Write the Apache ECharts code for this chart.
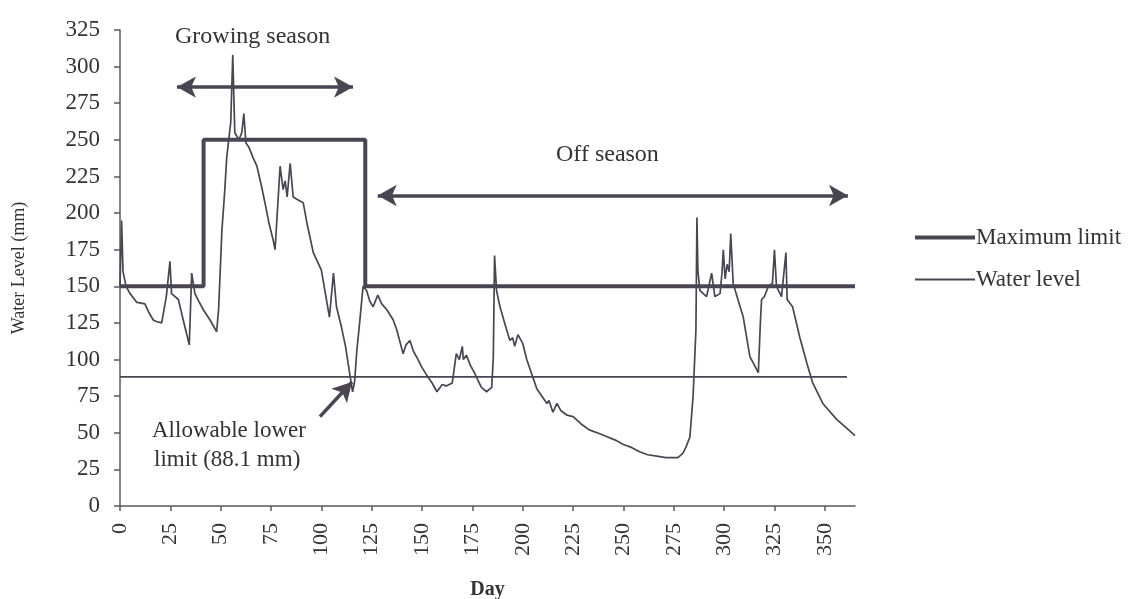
<!DOCTYPE html>
<html>
<head>
<meta charset="utf-8">
<script src="https://cdn.jsdelivr.net/npm/echarts@6/dist/echarts.min.js"></script>
<style>
html,body{margin:0;padding:0;background:#fff;}
#chart{width:1144px;height:599px;}
</style>
</head>
<body>
<div id="chart"></div>
<script>
// ---- data ----
const yTicks = [0,25,50,75,100,125,150,175,200,225,250,275,300,325];
const xTicks = [0,25,50,75,100,125,150,175,200,225,250,275,300,325,350];
const maxLimit = [[0,150],[41.5,150],[41.5,250],[121.8,250],[121.8,150],[365,150]];
const lowerLimitValue = 88.1;
const lowerLimitSpan = [0, 361];
const waterLevel = [
[0,150],[0.8,195],[1.5,160],[3,150],[5,145],[8.4,139],[12.4,138],[14,133],[16.5,127],[18,126],[20.7,125],[23,143],[24.8,167],[25.6,145],[29,141],[31.4,127],[33,118],[34.4,110],[35.6,159],[37.2,145],[39,140],[41.4,134],[44.7,127],[48,119],[49,135],[50.6,188],[52,215],[53,238],[54,250],[55,262],[56,308],[57,255],[59,250],[60.5,255],[61.5,268],[62.5,248],[64,245],[66,238],[68,232],[70,220],[72,207],[74,193],[76,182],[77,175],[78.5,209],[79.5,232],[81,216],[82,222],[83,211],[84.5,234],[86,211],[88.5,209],[91,207],[93,192],[96,173],[98,167],[100,161],[102,145],[104,129],[106,159],[107.5,136],[110,122],[112,109],[114,91],[115.5,78],[116.5,85],[117.6,106],[119,125],[120.7,150],[122.5,147],[124,140],[125.7,136],[128,144],[130,138],[132.5,134],[135.7,127],[137.5,120],[140.6,104],[142,110],[144,113],[145.6,106],[148,100],[149.8,95],[152,90],[155,84],[157.4,78],[160,83],[162,82],[165,84],[167,104],[168.5,100],[170,109],[170.5,100],[172,103],[174,96],[176,91],[178,85],[179.5,81],[182,78],[184.6,81],[185.4,102],[186,171],[187,147],[188.7,136],[191,125],[193.6,113],[195,115],[196,109],[197.6,117],[200,111],[202,100],[205,88],[207,80],[209.5,75],[212,70],[213,72],[215,64],[217,70],[219,65],[222,62],[225,61],[229,56],[233,52],[237,50],[241.6,47.5],[246,45],[250,42],[254,40],[258,37],[262,35],[266.6,34],[271,33],[274.6,33],[277,33],[279.5,36],[281,40],[283,47],[284.6,75],[286,120],[286.5,197],[287,160],[288,147],[291.3,143],[293.8,159],[295.4,143],[298,145],[299,160],[299.6,175],[300.5,155],[301.5,165],[302.5,160],[303.3,186],[304.5,152],[306,145],[309.5,129],[312.8,102],[317,91],[318,125],[318.6,141],[320,143],[322,150],[324,152],[325,175],[326,150],[328.5,143],[330.7,173],[331.3,141],[334,136],[337.6,115],[341,98],[344,84],[349,70],[356,59],[361,53],[365,48]
];
const growingArrow = [[28.3,286],[115.7,286]];
const offArrow = [[128,212],[361.5,212]];
const lowerArrow = [[99.3,61],[115.2,84.7]];
const seriesNames = ['Maximum limit','Water level'];
const annotationTexts = ['Growing season','Off season','Allowable lower','limit (88.1 mm)'];

// ---- chart ----
const INK = '#4a4552';
const TXT = '#333333';
const FONT = '"Liberation Serif", "DejaVu Serif", serif';
const chart = echarts.init(document.getElementById('chart'), null, {renderer:'canvas'});

const arrowLine = (pts, sym) => ({
  silent: true,
  symbol: sym,
  symbolSize: [16, 19],
  label: {show:false},
  lineStyle: {color: INK, width: 3.5, type: 'solid'},
  emphasis: {disabled: true},
  animation: false,
  data: [[{coord: pts[0]}, {coord: pts[1]}]]
});

const legendBase = {
  orient: 'vertical',
  left: 910,
  itemWidth: 60,
  icon: 'rect',
  itemStyle: {color: INK},
  textStyle: {fontFamily: FONT, fontSize: 23, color: TXT, padding: [0,0,0,-4]},
  selectedMode: false
};

chart.setOption({
  animation: false,
  backgroundColor: '#fff',
  textStyle: {fontFamily: FONT},
  grid: {left: 120, right: 289, top: 30, bottom: 93, containLabel: false, outerBoundsMode: 'none'},
  legend: [
    Object.assign({}, legendBase, {data: [seriesNames[0]], top: 221, itemHeight: 4}),
    Object.assign({}, legendBase, {data: [seriesNames[1]], top: 263, itemHeight: 2})
  ],
  xAxis: {
    type: 'value',
    min: 0, max: 365, interval: 25,
    name: 'Day',
    nameLocation: 'middle',
    nameGap: 74,
    nameTextStyle: {fontFamily: FONT, fontSize: 20, color: TXT, fontWeight: 'bold'},
    axisLine: {show: true, lineStyle: {color: '#5a5a5a', width: 1.5}},
    axisTick: {show: true, length: 5, lineStyle: {color: '#5a5a5a', width: 1.5}},
    axisLabel: {
      rotate: 90, margin: 17, fontFamily: FONT, fontSize: 22, color: TXT,
      showMaxLabel: false,
      formatter: v => xTicks.includes(v) ? String(v) : ''
    },
    splitLine: {show: false}
  },
  yAxis: {
    type: 'value',
    min: 0, max: 325, interval: 25,
    name: 'Water Level (mm)',
    nameLocation: 'middle',
    nameGap: 92,
    nameTextStyle: {fontFamily: FONT, fontSize: 18, color: TXT},
    axisLine: {show: true, lineStyle: {color: '#5a5a5a', width: 1.5}},
    axisTick: {show: true, length: 6, lineStyle: {color: '#5a5a5a', width: 1.5}},
    axisLabel: {margin: 20, fontFamily: FONT, fontSize: 23, color: TXT,
      formatter: v => yTicks.includes(v) ? String(v) : ''},
    splitLine: {show: false}
  },
  series: [
    {
      name: seriesNames[0], type: 'line', data: maxLimit,
      symbol: 'none', z: 3,
      lineStyle: {color: INK, width: 4},
      itemStyle: {color: INK}
    },
    {
      name: seriesNames[1], type: 'line', data: waterLevel,
      symbol: 'none', z: 4,
      lineStyle: {color: INK, width: 1.7},
      itemStyle: {color: INK}
    },
    {
      name: 'Allowable lower limit', type: 'line',
      data: [[lowerLimitSpan[0], lowerLimitValue],[lowerLimitSpan[1], lowerLimitValue]],
      symbol: 'none', z: 2,
      lineStyle: {color: INK, width: 1.8},
      markLine: arrowLine(lowerArrow, ['none','arrow'])
    },
    {
      name: 'arrows1', type: 'line', data: [], symbol: 'none',
      markLine: arrowLine(growingArrow, ['arrow','arrow'])
    },
    {
      name: 'arrows2', type: 'line', data: [], symbol: 'none',
      markLine: arrowLine(offArrow, ['arrow','arrow'])
    }
  ],
  graphic: [
    {type:'text', left: 175, top: 25, style:{text: annotationTexts[0], font: '24px ' + FONT, fill: TXT}},
    {type:'text', left: 556, top: 143, style:{text: annotationTexts[1], font: '24px ' + FONT, fill: TXT}},
    {type:'text', left: 152, top: 419, style:{text: annotationTexts[2], font: '23px ' + FONT, fill: TXT}},
    {type:'text', left: 154, top: 448, style:{text: annotationTexts[3], font: '23px ' + FONT, fill: TXT}}
  ]
});
</script>
</body>
</html>
